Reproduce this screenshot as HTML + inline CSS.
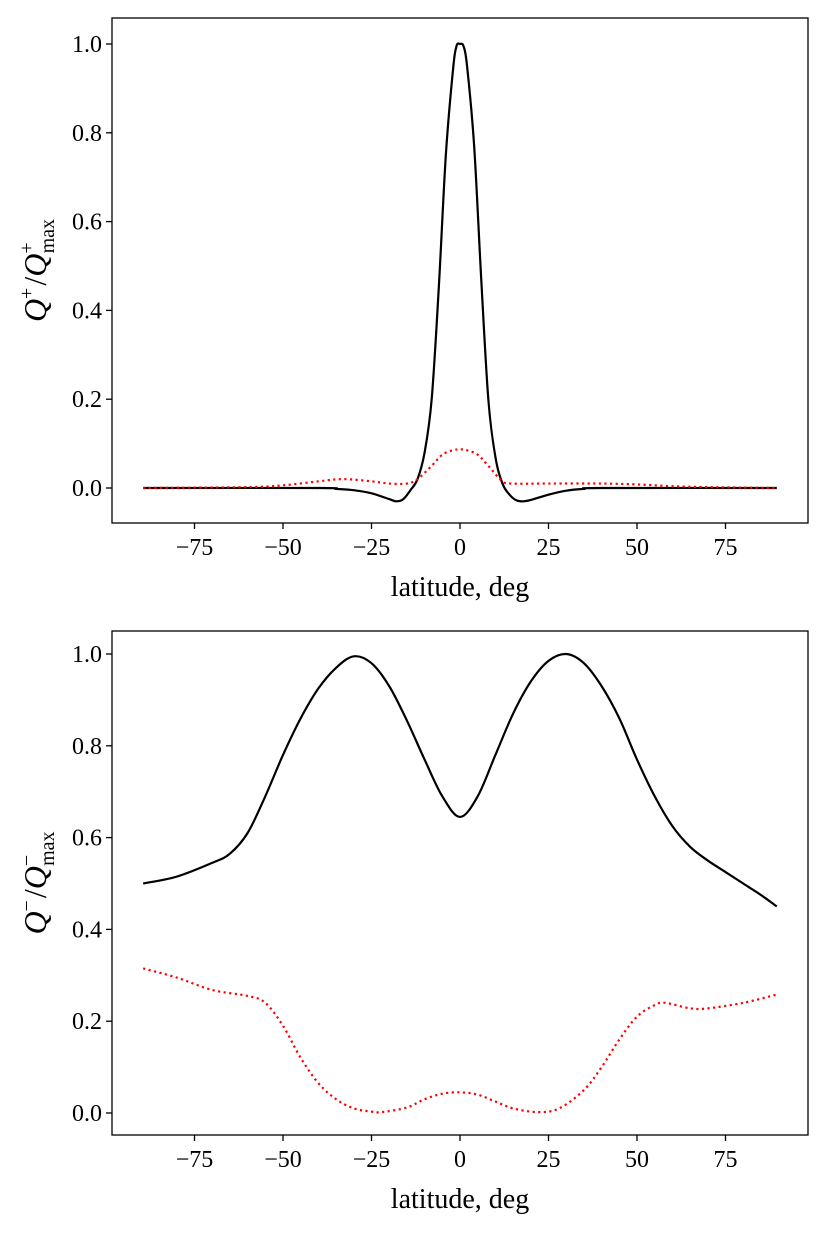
<!DOCTYPE html>
<html><head><meta charset="utf-8"><style>
body{margin:0;background:#fff}
svg text{font-family:"Liberation Serif","DejaVu Serif",serif;fill:#000}
</style></head><body>
<svg id="c" width="830" height="1233" viewBox="0 0 830 1233" xmlns="http://www.w3.org/2000/svg"></svg>
<script>
const xTicks=[-75,-50,-25,0,25,50,75];
const yTicks=[0.0,0.2,0.4,0.6,0.8,1.0];
const topLat=[-89.5,-40,-35,-30,-25,-20,-18,-16,-14,-12,-10,-8,-6,-4,-2,-1,0,1,2,4,6,8,10,12,14,16,18,20,25,30,35,40,89.5];
const topBlack=[0,0,-0.002,-0.005,-0.012,-0.025,-0.03,-0.025,-0.005,0.02,0.08,0.2,0.45,0.75,0.94,0.995,1.0,0.995,0.95,0.77,0.47,0.2,0.07,0.01,-0.015,-0.028,-0.03,-0.027,-0.015,-0.006,-0.002,0,0];
const topRedLat=[-89.5,-60,-50,-40,-33,-25,-20,-15,-12,-8,-5,-2,0,2,5,8,12,15,25,40,50,60,70,89.5];
const topRed=[0,0.002,0.006,0.015,0.02,0.015,0.01,0.01,0.02,0.05,0.075,0.085,0.087,0.085,0.075,0.05,0.015,0.01,0.01,0.01,0.008,0.004,0.002,0];
const botLat=[-89.5,-80,-70,-65,-60,-55,-50,-45,-40,-35,-30,-25,-20,-15,-10,-5,0,5,10,15,20,25,30,35,40,45,50,55,60,65,70,75,80,85,89.5];
const botBlack=[0.5,0.515,0.545,0.565,0.61,0.69,0.78,0.86,0.925,0.97,0.995,0.98,0.93,0.855,0.77,0.69,0.645,0.69,0.78,0.87,0.94,0.985,1.0,0.98,0.93,0.86,0.77,0.69,0.625,0.58,0.55,0.525,0.5,0.475,0.45];
const botRedLat=[-89.5,-80,-70,-60,-55,-50,-45,-40,-35,-30,-25,-22,-15,-10,-5,0,5,10,15,22,28,35,40,45,50,55,58,65,70,80,89.5];
const botRed=[0.315,0.295,0.268,0.255,0.24,0.19,0.12,0.065,0.03,0.01,0.003,0.002,0.012,0.03,0.042,0.045,0.04,0.025,0.01,0.002,0.01,0.05,0.1,0.16,0.21,0.235,0.24,0.228,0.228,0.24,0.258];

const svg=document.getElementById('c');const NS='http://www.w3.org/2000/svg';
function mk(t,a,p){const e=document.createElementNS(NS,t);for(const k in a)e.setAttribute(k,a[k]);(p||svg).appendChild(e);return e;}
function path(xs,ys){let p=xs.map((x,i)=>[x,ys[i]]);let d='M'+p[0][0]+','+p[0][1];
 for(let i=0;i<p.length-1;i++){const p0=p[Math.max(0,i-1)],p1=p[i],p2=p[i+1],p3=p[Math.min(p.length-1,i+2)];
  const c1=[p1[0]+(p2[0]-p0[0])/6,p1[1]+(p2[1]-p0[1])/6],c2=[p2[0]-(p3[0]-p1[0])/6,p2[1]-(p3[1]-p1[1])/6];
  d+=`C${c1[0].toFixed(2)},${c1[1].toFixed(2)} ${c2[0].toFixed(2)},${c2[1].toFixed(2)} ${p2[0].toFixed(2)},${p2[1].toFixed(2)}`;}
 return d;}
function panel(name,top,bottom,y0,y1,sup,bl,bv,rl,rv){
 const g=mk('g',{});
 const L=112,R=808;const X=v=>460+v*3.54;const Y=v=>y0+(y1-y0)*v;
 mk('rect',{x:L,y:top,width:R-L,height:bottom-top,fill:'none',stroke:'#000','stroke-width':1.3,},g);
 xTicks.forEach(t=>{const x=X(t);mk('line',{x1:x,x2:x,y1:bottom,y2:bottom+6,stroke:'#000','stroke-width':1.3},g);
  const tx=mk('text',{x:x,y:bottom+32,'font-size':24,'text-anchor':'middle'},g);tx.textContent=(t<0?'\u2212':'')+Math.abs(t);
  });
 yTicks.forEach(t=>{const y=Y(t);mk('line',{x1:L,x2:L-6,y1:y,y2:y,stroke:'#000','stroke-width':1.3},g);
  const tx=mk('text',{x:L-10,y:y+8,'font-size':24,'text-anchor':'end'},g);tx.textContent=t.toFixed(1);
  });
 const xl=mk('text',{x:460,y:bottom+73,'font-size':28,'text-anchor':'middle'},g);xl.textContent='latitude, deg';
 
 const cy=(top+bottom)/2;
 const yl=mk('text',{transform:`translate(46,${cy}) rotate(-90)`,'font-size':32,'text-anchor':'middle'},g);
 yl.innerHTML=`<tspan font-style="italic">Q</tspan><tspan font-size="20" dy="-13">${sup}</tspan><tspan dy="13" dx="2">/</tspan><tspan font-style="italic">Q</tspan><tspan font-size="20" dy="-13">${sup}</tspan><tspan font-size="20" dy="21" dx="-11">max</tspan>`;
 
 const b=mk('path',{d:path(bl.map(X),bv.map(Y)),fill:'none',stroke:'#000','stroke-width':2.2},g);
 
 const r=mk('path',{d:path(rl.map(X),rv.map(Y)),fill:'none',stroke:'#f00','stroke-width':2.2,'stroke-dasharray':'2.2,3.4'},g);
 
}
panel('top-panel',18,523,488,44,'+',topLat,topBlack,topRedLat,topRed);
panel('bottom-panel',631,1135,1113,654,'\u2212',botLat,botBlack,botRedLat,botRed);
</script>
</body></html>
